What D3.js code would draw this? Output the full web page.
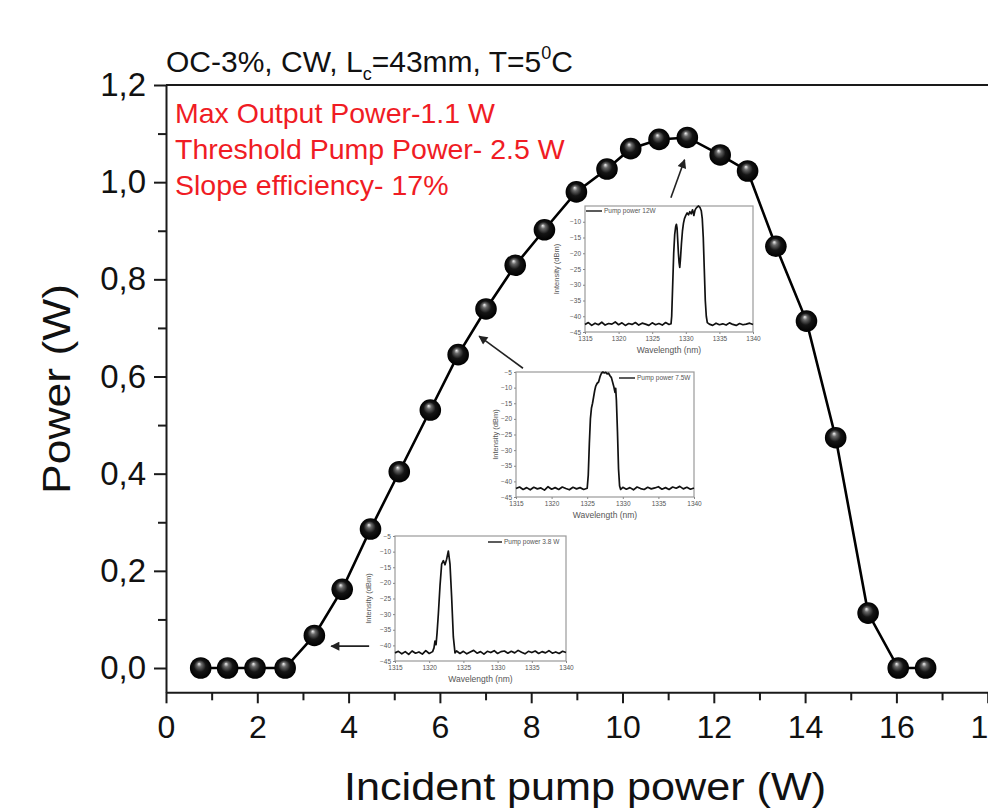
<!DOCTYPE html>
<html><head><meta charset="utf-8">
<script src="https://cdn.jsdelivr.net/npm/d3@7"></script>
<style>
html,body{margin:0;padding:0;background:#fff;overflow:hidden}
svg{display:block;font-family:"Liberation Sans",Arial,Helvetica,sans-serif}
</style></head><body>
<svg id="c" width="988" height="810"></svg>
<script>
// ---------------- data ----------------
const pumpPower = [0.76, 1.35, 1.95, 2.61, 3.25, 3.86, 4.48, 5.11, 5.79, 6.40, 7.01, 7.65, 8.29,
  8.99, 9.66, 10.18, 10.80, 11.42, 12.14, 12.74, 13.36, 14.03, 14.67, 15.38, 16.04, 16.64];
const outputPower = [0, 0, 0, 0, 0.067, 0.162, 0.286, 0.404, 0.531, 0.645, 0.739, 0.829, 0.902,
  0.980, 1.027, 1.069, 1.088, 1.092, 1.056, 1.023, 0.868, 0.714, 0.474, 0.113, 0, 0];
const xTicks = [0, 2, 4, 6, 8, 10, 12, 14, 16, 18];
const yTicks = [0, 0.2, 0.4, 0.6, 0.8, 1.0, 1.2];
const titleParts = ["OC-3%, CW, L", "c", "=43mm, T=5", "0", "C"];
const notes = ["Max Output Power-1.1 W", "Threshold Pump Power- 2.5 W", "Slope efficiency- 17%"];
const xLabel = "Incident pump power (W)";
const yLabel = "Power (W)";

// inset spectra: [wavelength nm, intensity dBm]
const spec38 = [[1315,-42.4],[1315.5,-41.9],[1316,-42.7],[1316.5,-42.0],[1317,-42.9],[1317.5,-41.8],[1318,-42.5],
  [1318.5,-42.1],[1319,-42.8],[1319.5,-41.7],[1320,-42.6],[1320.5,-42.0],[1320.7,-40.8],[1320.85,-38.6],[1321.0,-39.8],
  [1321.15,-36],[1321.34,-29.9],[1321.58,-20.9],[1321.82,-14],[1322.07,-12.9],[1322.31,-14.2],[1322.55,-12.4],
  [1322.8,-9.8],[1323.04,-14],[1323.28,-24.5],[1323.53,-37.3],[1323.77,-42.4],[1324,-41.8],[1324.5,-42.6],[1325,-41.9],
  [1325.5,-42.7],[1326,-42.1],[1326.5,-41.6],[1327,-42.5],[1327.5,-42.0],[1328,-42.8],[1328.5,-41.9],[1329,-42.3],
  [1329.5,-41.7],[1330,-42.6],[1330.5,-42.0],[1331,-41.8],[1331.5,-42.5],[1332,-41.9],[1332.5,-42.4],[1333,-41.6],
  [1333.5,-42.2],[1334,-42.7],[1334.5,-41.9],[1335,-42.3],[1335.5,-41.8],[1336,-42.6],[1336.5,-42.0],[1337,-42.4],
  [1337.5,-41.7],[1338,-42.5],[1338.5,-42.1],[1339,-42.6],[1339.5,-41.9],[1340,-42.3]];
const spec75 = [[1315,-42.3],[1315.5,-41.8],[1316,-42.6],[1316.5,-42.0],[1317,-42.7],[1317.5,-41.9],[1318,-42.4],
  [1318.5,-42.1],[1319,-42.8],[1319.5,-41.7],[1320,-42.5],[1320.5,-42.0],[1321,-42.6],[1321.5,-41.8],[1322,-42.3],
  [1322.5,-42.7],[1323,-41.9],[1323.5,-42.4],[1324,-42.0],[1324.5,-42.6],[1325,-42.2],[1325.15,-38],[1325.3,-28],
  [1325.45,-20],[1325.6,-16.5],[1325.75,-15],[1325.9,-13],[1326.05,-11],[1326.2,-9.5],[1326.4,-8.6],[1326.6,-8.2],
  [1326.8,-6.5],[1327.0,-5.4],[1327.2,-5.0],[1327.4,-5.3],[1327.6,-5.1],[1327.8,-5.6],[1328.0,-5.4],[1328.2,-6.2],
  [1328.4,-6.8],[1328.6,-8.5],[1328.75,-9.8],[1328.9,-11.5],[1329.0,-10.2],[1329.1,-14],[1329.25,-24],[1329.4,-36],
  [1329.55,-41.5],[1329.7,-42.6],[1330,-41.9],[1330.5,-42.5],[1331,-42.0],[1331.5,-42.7],[1332,-41.8],[1332.5,-42.3],
  [1333,-42.6],[1333.5,-41.9],[1334,-42.4],[1334.5,-42.1],[1335,-41.7],[1335.5,-42.5],[1336,-42.0],[1336.5,-42.6],
  [1337,-41.8],[1337.5,-42.2],[1338,-41.6],[1338.5,-42.4],[1339,-41.9],[1339.5,-42.5],[1340,-42.1]];
const spec12 = [[1315,-42.6],[1315.5,-42.0],[1316,-42.9],[1316.5,-42.2],[1317,-42.7],[1317.5,-41.9],[1318,-42.8],
  [1318.5,-42.3],[1319,-42.5],[1319.5,-41.8],[1320,-42.7],[1320.5,-42.1],[1321,-42.9],[1321.5,-42.3],[1322,-42.6],
  [1322.5,-42.0],[1323,-42.8],[1323.5,-42.2],[1324,-42.5],[1324.5,-42.9],[1325,-42.1],[1325.5,-42.7],[1326,-42.3],
  [1326.5,-42.8],[1327,-42.0],[1327.5,-42.6],[1327.8,-42.4],[1327.9,-40],[1328.05,-30],[1328.2,-20],[1328.35,-14],
  [1328.5,-11.5],[1328.6,-10.8],[1328.7,-12],[1328.8,-16],[1328.9,-20],[1329.0,-23],[1329.1,-24.5],[1329.2,-22],
  [1329.35,-17],[1329.5,-13],[1329.65,-10.5],[1329.8,-9],[1330.0,-8],[1330.2,-7.2],[1330.4,-7.8],[1330.6,-6.8],
  [1330.8,-7.5],[1331.0,-6.2],[1331.2,-8],[1331.35,-6.5],[1331.5,-5.8],[1331.7,-5.3],[1331.9,-5.0],[1332.1,-5.4],
  [1332.3,-6.5],[1332.45,-9],[1332.6,-15],[1332.75,-25],[1332.9,-35],[1333.05,-40],[1333.2,-42],[1333.5,-42.5],
  [1334,-42.9],[1334.5,-42.2],[1335,-42.7],[1335.5,-42.4],[1336,-42.8],[1336.5,-42.1],[1337,-42.6],[1337.5,-42.9],
  [1338,-42.3],[1338.5,-42.7],[1339,-42.5],[1339.5,-42.2],[1340,-42.6]];
const insetYTicks = [-45, -40, -35, -30, -25, -20, -15, -10, -5];
const insetXTicks = [1315, 1320, 1325, 1330, 1335, 1340];
const insetLegends = ["Pump power 3.8 W", "Pump power 7.5W", "Pump power 12W"];
// arrows [x1,y1,x2,y2] in main-axis data units (tail -> head)
const arrows = [[4.45, 0.045, 3.62, 0.045], [7.82, 0.617, 6.86, 0.683], [11.06, 0.968, 11.36, 1.046]];

// ---------------- chart ----------------
const svg = d3.select("#c");
const x = d3.scaleLinear().domain([0, 18]).range([166, 987.7]);
const y = d3.scaleLinear().domain([-0.05, 1.2]).range([692.3, 85]);
const axisColor = "#1a1a1a";

const defs = svg.append("defs");
const grad = defs.append("radialGradient").attr("id", "ball")
  .attr("cx", "50%").attr("cy", "50%").attr("r", "50%").attr("fx", "42%").attr("fy", "30%");
grad.append("stop").attr("offset", "0%").attr("stop-color", "#f4f4f4");
grad.append("stop").attr("offset", "22%").attr("stop-color", "#6a6a6a");
grad.append("stop").attr("offset", "55%").attr("stop-color", "#151515");
grad.append("stop").attr("offset", "100%").attr("stop-color", "#000");
defs.append("marker").attr("id", "arr").attr("viewBox", "0 0 10 10").attr("refX", 9).attr("refY", 5)
  .attr("markerWidth", 12).attr("markerHeight", 9).attr("markerUnits", "userSpaceOnUse")
  .attr("orient", "auto")
  .append("path").attr("d", "M0,0 L10,5 L0,10 Z").attr("fill", "#222");

// top frame line
svg.append("line").attr("x1", x(0)).attr("x2", 988).attr("y1", y(1.2)).attr("y2", y(1.2))
  .attr("stroke", axisColor).attr("stroke-width", 2);

// x axis
const gx = svg.append("g").attr("transform", `translate(0,${y(-0.05)})`)
  .call(d3.axisBottom(x).tickValues(xTicks).tickSize(11).tickSizeOuter(0).tickPadding(12)
    .tickFormat(d3.format("d")));
gx.selectAll("text").attr("font-size", 32).attr("fill", "#111").attr("font-family", "Liberation Sans, Arial");
gx.selectAll("line,path").attr("stroke", axisColor).attr("stroke-width", 2);
svg.append("g").attr("transform", `translate(0,${y(-0.05)})`)
  .call(d3.axisBottom(x).tickValues(d3.range(1, 18, 2)).tickSize(8).tickSizeOuter(0).tickFormat(""))
  .call(g => g.select(".domain").remove())
  .selectAll("line").attr("stroke", axisColor).attr("stroke-width", 2);

// y axis
const gy = svg.append("g").attr("transform", `translate(${x(0)},0)`)
  .call(d3.axisLeft(y).tickValues(yTicks).tickSize(12).tickSizeOuter(0).tickPadding(8)
    .tickFormat(d => d3.format(".1f")(d).replace(".", ",")));
gy.selectAll("text").attr("font-size", 33).attr("fill", "#111").attr("font-family", "Liberation Sans, Arial");
gy.selectAll("line,path").attr("stroke", axisColor).attr("stroke-width", 2);
svg.append("g").attr("transform", `translate(${x(0)},0)`)
  .call(d3.axisLeft(y).tickValues([0.1, 0.3, 0.5, 0.7, 0.9, 1.1]).tickSize(8).tickSizeOuter(0).tickFormat(""))
  .call(g => g.select(".domain").remove())
  .selectAll("line").attr("stroke", axisColor).attr("stroke-width", 2);

// axis titles
svg.append("text").attr("x", 585).attr("y", 800).attr("text-anchor", "middle")
  .attr("font-size", 38).attr("fill", "#111").attr("textLength", 482).attr("lengthAdjust", "spacingAndGlyphs")
  .text(xLabel);
svg.append("text").attr("transform", "translate(70,389) rotate(-90)").attr("text-anchor", "middle")
  .attr("font-size", 38).attr("fill", "#111").attr("textLength", 210).attr("lengthAdjust", "spacingAndGlyphs")
  .text(yLabel);

// title
const t = svg.append("text").attr("x", 166).attr("y", 72).attr("font-size", 30).attr("fill", "#111");
t.append("tspan").text(titleParts[0]);
t.append("tspan").attr("font-size", 18).attr("dy", 8).text(titleParts[1]);
t.append("tspan").attr("dy", -8).text(titleParts[2]);
t.append("tspan").attr("font-size", 18).attr("dy", -13).text(titleParts[3]);
t.append("tspan").attr("dy", 13).text(titleParts[4]);

// red notes
svg.append("g").selectAll("text").data(notes).join("text")
  .attr("x", 175).attr("y", (d, i) => 123 + i * 36).attr("font-size", 28.5).attr("fill", "#f01c24").text(d => d);

// ---------------- insets ----------------
function inset(cfg) {
  const g = svg.append("g").attr("transform", `translate(${cfg.x0},${cfg.y0})`);
  const xs = d3.scaleLinear().domain([1315, 1340]).range([0, cfg.w]);
  const ys = d3.scaleLinear().domain([-45, -5]).range([cfg.h, 0]);
  g.append("rect").attr("width", cfg.w).attr("height", cfg.h).attr("fill", "#fff")
    .attr("stroke", "#9a9a9a").attr("stroke-width", 1.2);
  const ax = g.append("g").attr("transform", `translate(0,${cfg.h})`)
    .call(d3.axisBottom(xs).tickValues(insetXTicks).tickSize(2).tickPadding(2).tickSizeOuter(0)
      .tickFormat(d3.format("d")));
  const ay = g.append("g")
    .call(d3.axisLeft(ys).tickValues(cfg.hideTop ? insetYTicks.slice(0, -1) : insetYTicks)
      .tickSize(2).tickPadding(2).tickSizeOuter(0).tickFormat(d3.format("d")));
  [ax, ay].forEach(a => {
    a.select(".domain").remove();
    a.selectAll("line").attr("stroke", "#888");
    a.selectAll("text").attr("font-size", 6.5).attr("fill", "#555").attr("font-family", "Liberation Sans, Arial");
  });
  g.append("text").attr("x", cfg.w / 2).attr("y", cfg.h + 21).attr("text-anchor", "middle")
    .attr("font-size", 8.5).attr("fill", "#555").text("Wavelength (nm)");
  g.append("text").attr("transform", `translate(${-cfg.ylabOff},${cfg.h / 2}) rotate(-90)`).attr("text-anchor", "middle")
    .attr("font-size", 7.5).attr("fill", "#555").text("Intensity (dBm)");
  g.append("path").datum(cfg.data)
    .attr("d", d3.line().x(d => xs(d[0])).y(d => ys(d[1])))
    .attr("fill", "none").attr("stroke", "#111").attr("stroke-width", 1.7).attr("stroke-linejoin", "round");
  g.append("line").attr("x1", cfg.lx).attr("x2", cfg.lx + cfg.ll).attr("y1", cfg.ly).attr("y2", cfg.ly)
    .attr("stroke", "#333").attr("stroke-width", 1.6);
  g.append("text").attr("x", cfg.lx + cfg.ll + 2).attr("y", cfg.ly + 2.2).attr("font-size", 6.5).attr("fill", "#555")
    .text(cfg.legend);
}
inset({x0: 395, y0: 536, w: 171, h: 125, data: spec38, legend: insetLegends[0], lx: 93, ll: 14, ly: 6, ylabOff: 24});
inset({x0: 516, y0: 372, w: 178, h: 125, data: spec75, legend: insetLegends[1], lx: 103, ll: 16, ly: 6, ylabOff: 18});
inset({x0: 585, y0: 206, w: 168, h: 126, data: spec12, legend: insetLegends[2], lx: 1, ll: 16, ly: 5, ylabOff: 26, hideTop: true});

// arrows
svg.append("g").selectAll("line").data(arrows).join("line")
  .attr("x1", d => x(d[0])).attr("y1", d => y(d[1])).attr("x2", d => x(d[2])).attr("y2", d => y(d[3]))
  .attr("stroke", "#222").attr("stroke-width", 1.6).attr("marker-end", "url(#arr)");

// ---------------- series ----------------
const pts = pumpPower.map((p, i) => [p, outputPower[i]]);
svg.append("path").datum(pts)
  .attr("d", d3.line().x(d => x(d[0])).y(d => y(d[1])))
  .attr("fill", "none").attr("stroke", "#000").attr("stroke-width", 2.6);
svg.append("g").selectAll("circle").data(pts).join("circle")
  .attr("cx", d => x(d[0])).attr("cy", d => y(d[1])).attr("r", 10.8)
  .attr("fill", "url(#ball)");
</script>
</body></html>
